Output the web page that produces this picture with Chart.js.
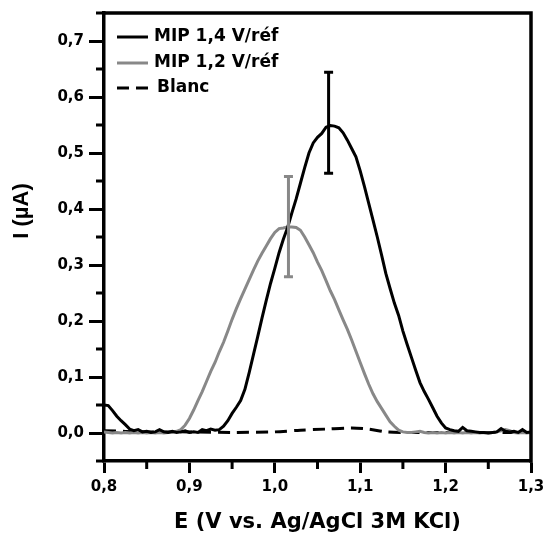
<!DOCTYPE html>
<html><head><meta charset="utf-8">
<script src="https://cdn.jsdelivr.net/npm/chart.js@4.4.1/dist/chart.umd.min.js"></script>
<style>html,body{margin:0;padding:0;background:#fff;}</style>
</head><body>
<canvas id="c" width="547" height="535"></canvas>
<script>
// ---- data ----
const potential = [0.800,0.805,0.810,0.815,0.820,0.825,0.830,0.835,0.840,0.845,0.850,0.855,0.860,0.865,0.870,0.875,0.880,0.885,0.890,0.895,
0.900,0.905,0.910,0.915,0.920,0.925,0.930,0.935,0.940,0.945,0.950,0.955,0.960,0.965,0.970,0.975,0.980,0.985,0.990,0.995,
1.000,1.005,1.010,1.015,1.020,1.025,1.030,1.035,1.040,1.045,1.050,1.055,1.060,1.065,1.070,1.075,1.080,1.085,1.090,1.095,
1.100,1.105,1.110,1.115,1.120,1.125,1.130,1.135,1.140,1.145,1.150,1.155,1.160,1.165,1.170,1.175,1.180,1.185,1.190,1.195,
1.200,1.205,1.210,1.215,1.220,1.225,1.230,1.235,1.240,1.245,1.250,1.255,1.260,1.265,1.270,1.275,1.280,1.285,1.290,1.295,1.300];
const mip14 = [0.050,0.049,0.040,0.030,0.022,0.015,0.007,0.004,0.006,0.002,0.003,0.001,0.002,0.006,0.002,0.001,0.003,0.001,0.002,0.004,
0.001,0.002,0.001,0.006,0.004,0.007,0.005,0.006,0.012,0.022,0.035,0.046,0.058,0.078,0.108,0.140,0.172,0.205,0.237,0.267,
0.294,0.322,0.346,0.367,0.393,0.418,0.446,0.474,0.500,0.518,0.528,0.535,0.546,0.549,0.548,0.545,0.536,0.523,0.508,0.493,
0.468,0.440,0.410,0.380,0.350,0.318,0.285,0.258,0.232,0.210,0.182,0.158,0.135,0.112,0.090,0.074,0.060,0.045,0.030,0.018,
0.009,0.006,0.004,0.003,0.010,0.004,0.003,0.002,0.001,0.001,0.000,0.001,0.002,0.008,0.003,0.002,0.003,0.001,0.006,0.001,0.002];
const mip12 = [0.002,0.001,0.000,0.001,0.000,0.001,0.000,0.001,0.000,0.001,0.000,0.001,0.000,0.001,0.000,0.001,0.001,0.003,0.006,0.014,
0.026,0.041,0.058,0.074,0.092,0.110,0.126,0.145,0.162,0.182,0.203,0.222,0.240,0.257,0.274,0.291,0.307,0.321,0.334,0.347,
0.358,0.365,0.366,0.368,0.368,0.367,0.362,0.350,0.336,0.322,0.305,0.290,0.272,0.254,0.238,0.220,0.202,0.185,0.166,0.146,
0.126,0.106,0.087,0.070,0.056,0.044,0.032,0.020,0.012,0.005,0.002,0.001,0.001,0.002,0.003,0.001,0.000,0.001,0.000,0.001,
0.000,0.001,0.000,0.001,0.000,0.001,0.000,0.001,0.000,0.001,0.000,0.001,0.002,0.004,0.006,0.004,0.001,0.000,0.001,0.000,0.001];
const blancX = [0.80,0.85,0.90,0.95,1.00,1.03,1.06,1.09,1.11,1.13,1.15,1.20,1.25,1.30];
const blancY = [0.004,0.002,0.002,0.001,0.002,0.005,0.007,0.009,0.007,0.002,0.001,0.001,0.001,0.001];
const seriesLabels = ['MIP 1,4 V/réf','MIP 1,2 V/réf','Blanc'];
// error bars: one per MIP series
const errX = [1.063, 1.016];
const errY = [0.554, 0.3685];
const errSize = [0.090, 0.0895];
const xTicks = [0.8,0.9,1.0,1.1,1.2,1.3];
const xMinorTicks = [0.85,0.95,1.05,1.15,1.25];
const yTicks = [0.0,0.1,0.2,0.3,0.4,0.5,0.6,0.7];
const yMinorTicks = [-0.05,0.05,0.15,0.25,0.35,0.45,0.55,0.65,0.75];
const xTitle = 'E (V vs. Ag/AgCl 3M KCl)';
const yTitle = 'I (µA)';

const pts = (xs, ys) => xs.map((v, i) => ({x: v, y: ys[i]}));
const fmt = v => Number(v).toFixed(1).replace('.', ',');
const TICKFONT = {family: 'DejaVu Sans', weight: 'bold', size: 15};

const decor = {
  id: 'decor',
  afterDatasetsDraw(chart) {
    const {ctx, scales: {x, y}} = chart;
    ctx.save();
    for (let i = 0; i < errX.length; i++) {
      const px = x.getPixelForValue(errX[i]);
      const t = y.getPixelForValue(errY[i] + errSize[i]);
      const b = y.getPixelForValue(errY[i] - errSize[i]);
      ctx.strokeStyle = chart.data.datasets[i].borderColor;
      ctx.lineWidth = 3;
      ctx.beginPath();
      ctx.moveTo(px, t); ctx.lineTo(px, b);
      ctx.moveTo(px - 4.5, t); ctx.lineTo(px + 4.5, t);
      ctx.moveTo(px - 4.5, b); ctx.lineTo(px + 4.5, b);
      ctx.stroke();
    }
    ctx.restore();
  },
  afterDraw(chart) {
    const {ctx, chartArea: a, scales: {x, y}} = chart;
    ctx.save();
    ctx.strokeStyle = '#000';
    ctx.lineWidth = 3.5;
    ctx.beginPath();
    ctx.moveTo(a.left - 1.75, a.top); ctx.lineTo(a.right, a.top); ctx.lineTo(a.right, a.bottom + 1.75);
    ctx.stroke();
    ctx.lineWidth = 3;
    ctx.beginPath();
    xMinorTicks.forEach(v => { const px = x.getPixelForValue(v); ctx.moveTo(px, a.bottom); ctx.lineTo(px, a.bottom + 8); });
    yMinorTicks.forEach(v => { const py = y.getPixelForValue(v); ctx.moveTo(a.left, py); ctx.lineTo(a.left - 8, py); });
    ctx.stroke();
    // legend
    const ly = [37, 63, 88];
    const lx = [154, 154, 157];
    ctx.font = "bold 17px 'DejaVu Sans'";
    ctx.textBaseline = 'middle';
    ctx.fillStyle = '#000';
    chart.data.datasets.forEach((ds, i) => {
      ctx.strokeStyle = ds.borderColor;
      ctx.lineWidth = 3;
      ctx.setLineDash(ds.borderDash || []);
      ctx.beginPath(); ctx.moveTo(117, ly[i]); ctx.lineTo(148, ly[i]); ctx.stroke();
      ctx.setLineDash([]);
      ctx.fillText(ds.label, lx[i], ly[i]);
    });
    // y title
    ctx.translate(22, 211);
    ctx.rotate(-Math.PI / 2);
    ctx.textAlign = 'center';
    ctx.font = "bold 22px 'Liberation Sans'";
    ctx.fillText(yTitle, 0, 0);
    ctx.restore();
  }
};

new Chart(document.getElementById('c'), {
  type: 'line',
  data: {
    datasets: [
      {label: seriesLabels[0], data: pts(potential, mip14), borderColor: '#000000', borderWidth: 3, pointRadius: 0, tension: 0, order: 1},
      {label: seriesLabels[1], data: pts(potential, mip12), borderColor: 'rgb(136,136,136)', borderWidth: 3, pointRadius: 0, tension: 0, order: 2},
      {label: seriesLabels[2], data: pts(blancX, blancY), borderColor: '#000000', borderWidth: 3, borderDash: [12, 7], pointRadius: 0, tension: 0.3, order: 3}
    ]
  },
  options: {
    responsive: false,
    animation: false,
    devicePixelRatio: 1,
    layout: {padding: {top: 13, right: 16, left: 0, bottom: 0}},
    plugins: {legend: {display: false}, tooltip: {enabled: false}},
    scales: {
      x: {
        type: 'linear', min: 0.8, max: 1.3,
        afterBuildTicks: s => { s.ticks = xTicks.map(v => ({value: v})); },
        afterFit: s => { s.height = 74; s.paddingLeft = 0; s.paddingRight = 0; },
        ticks: {callback: fmt, font: TICKFONT, color: '#000', padding: 5, autoSkip: false, maxRotation: 0},
        grid: {drawOnChartArea: false, drawTicks: true, tickLength: 12, tickWidth: 3, tickColor: '#000'},
        border: {display: true, width: 3.5, color: '#000'},
        title: {display: true, text: xTitle, font: {family: 'DejaVu Sans', weight: 'bold', size: 21}, color: '#000', padding: {top: 0, bottom: 0}}
      },
      y: {
        type: 'linear', min: -0.05, max: 0.75,
        afterBuildTicks: s => { s.ticks = yTicks.map(v => ({value: v})); },
        afterFit: s => { s.width = 104; s.paddingTop = 0; s.paddingBottom = 0; },
        ticks: {callback: fmt, font: TICKFONT, color: '#000', padding: 5, autoSkip: false},
        grid: {drawOnChartArea: false, drawTicks: true, tickLength: 15, tickWidth: 3, tickColor: '#000'},
        border: {display: true, width: 3.5, color: '#000'}
      }
    }
  },
  plugins: [decor]
});
</script>
</body></html>
